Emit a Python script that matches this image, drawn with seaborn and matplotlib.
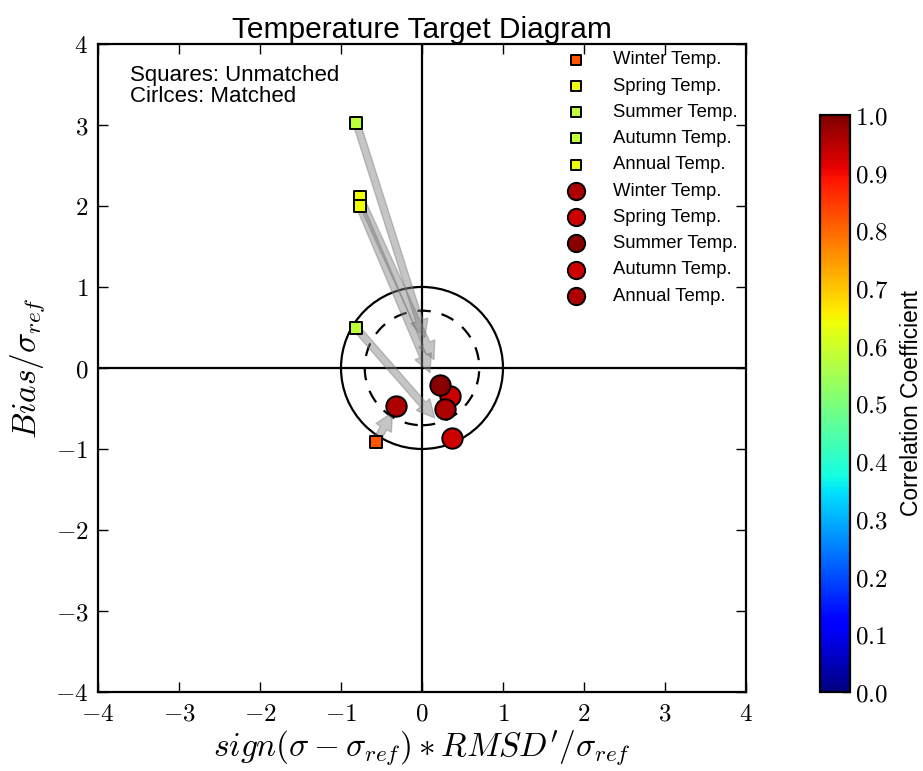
import matplotlib
matplotlib.use("Agg")
import matplotlib.pyplot as plt
import seaborn as sns
import numpy as np
from matplotlib.patches import Circle
from matplotlib.cm import ScalarMappable
from matplotlib.colors import Normalize

# seasons, unmatched (squares) and matched (circles) target statistics
names = ["Winter Temp.", "Spring Temp.", "Summer Temp.", "Autumn Temp.", "Annual Temp."]
rmsd_unmatched = [-0.57, -0.77, -0.81, -0.81, -0.77]
bias_unmatched = [-0.91, 2.11, 3.03, 0.49, 2.00]
corr_unmatched = [0.82, 0.64, 0.58, 0.58, 0.64]
rmsd_matched = [-0.32, 0.35, 0.22, 0.37, 0.29]
bias_matched = [-0.47, -0.34, -0.21, -0.86, -0.51]
corr_matched = [0.96, 0.93, 0.99, 0.93, 0.96]
cbar_ticks = [0.0, 0.1, 0.2, 0.3, 0.4, 0.5, 0.6, 0.7, 0.8, 0.9, 1.0]
axis_ticks = [-4, -3, -2, -1, 0, 1, 2, 3, 4]

sns.set_style("ticks")
plt.rcParams["font.family"] = ["Liberation Sans", "DejaVu Sans"]
plt.rcParams["mathtext.fontset"] = "cm"
plt.rcParams["xtick.direction"] = "in"
plt.rcParams["ytick.direction"] = "in"
plt.rcParams["xtick.top"] = True
plt.rcParams["ytick.right"] = True
for k in ["text.color", "axes.labelcolor", "xtick.color", "ytick.color", "axes.edgecolor"]:
    plt.rcParams[k] = "black"

cmap = plt.get_cmap("jet")
norm = Normalize(0, 1)

fig = plt.figure(figsize=(9.23, 7.71), dpi=100)
ax = fig.add_axes([0.1062, 0.1025, 0.702, 0.8405])

ax.axhline(0, color="black", lw=1.6, zorder=1)
ax.axvline(0, color="black", lw=1.6, zorder=1)
ax.add_patch(Circle((0, 0), 1.0, fill=False, ec="black", lw=1.6, zorder=1))
ax.add_patch(Circle((0, 0), 0.707, fill=False, ec="black", lw=1.6, ls=(0, (6, 5)), zorder=1))

# arrows unmatched -> matched
frac = 0.82
for i in range(len(names)):
    dx = rmsd_matched[i] - rmsd_unmatched[i]
    dy = bias_matched[i] - bias_unmatched[i]
    ax.arrow(rmsd_unmatched[i], bias_unmatched[i], frac * dx, frac * dy,
             width=0.09, head_width=0.22, head_length=0.22, length_includes_head=True,
             fc=(0.5, 0.5, 0.5, 0.45), ec=(0.45, 0.45, 0.45, 0.4), lw=1, zorder=2)

for i, n in enumerate(names):
    sns.scatterplot(x=[rmsd_unmatched[i]], y=[bias_unmatched[i]], marker="s", s=80,
                    color=cmap(norm(corr_unmatched[i])), edgecolor="black", linewidth=1.4,
                    label=n, ax=ax, zorder=3)
for i, n in enumerate(names):
    sns.scatterplot(x=[rmsd_matched[i]], y=[bias_matched[i]], marker="o", s=215,
                    color=cmap(norm(corr_matched[i])), edgecolor="black", linewidth=1.4,
                    label=n, ax=ax, zorder=3)

ax.set_xlim(-4, 4)
ax.set_ylim(-4, 4)
ax.set_xticks(axis_ticks)
ax.set_yticks(axis_ticks)
ax.set_xticklabels([f"${t}$" for t in axis_ticks], fontsize=18)
ax.set_yticklabels([f"${t}$" for t in axis_ticks], fontsize=18)
ax.tick_params(length=7, width=1, pad=7)
for sp in ax.spines.values():
    sp.set_linewidth(1.6)

ax.set_xlabel(r"$sign(\sigma - \sigma_{ref}) * RMSD'/\sigma_{ref}$", fontsize=24, labelpad=2)
ax.set_ylabel(r"$Bias/\sigma_{ref}$", fontsize=24, labelpad=6)
ax.set_title("Temperature Target Diagram", fontsize=21.5, pad=4)

ax.text(0.049, 0.968, "Squares: Unmatched\nCirlces: Matched", transform=ax.transAxes,
        fontsize=16, va="top", ha="left", linespacing=1.05)

leg = ax.legend(loc="upper right", bbox_to_anchor=(1.013, 1.014), frameon=False,
                fontsize=13.3, labelspacing=0.5, handletextpad=1.0, markerscale=0.85)

cax = fig.add_axes([0.888, 0.1025, 0.0325, 0.7484])
cb = fig.colorbar(ScalarMappable(norm=norm, cmap=cmap), cax=cax)
cb.set_ticks(cbar_ticks)
cb.set_ticklabels([f"${t:.1f}$" for t in cbar_ticks])
cax.tick_params(labelsize=18, direction="in", length=6, width=1, pad=4)
cb.outline.set_linewidth(1.6)
cb.set_label("Correlation Coefficient", fontsize=16.5, labelpad=8)

fig.savefig("out.png", dpi=100)
